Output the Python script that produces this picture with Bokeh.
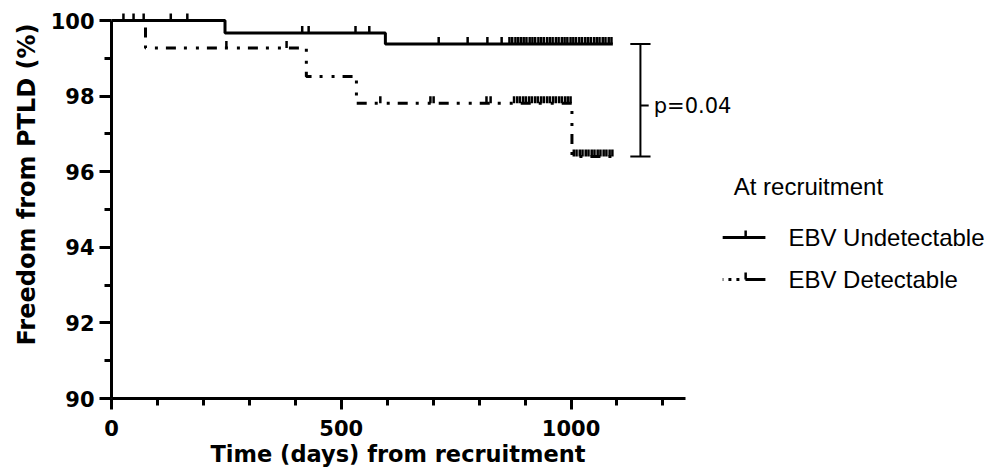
import numpy as np
from bokeh.plotting import figure
from bokeh.models import Range1d, FixedTicker, Title
from bokeh.embed import file_html
from bokeh.resources import INLINE
from bokeh.core.properties import value

# ---------------- data ----------------
undet_times = [0, 247, 596, 1091]
undet_surv = [100.0, 99.67, 99.38, 99.38]
det_times = [0, 74, 424, 533, 1002, 1091]
det_surv = [100.0, 99.27, 98.52, 97.81, 96.40, 96.40]

undet_censor = [26, 48, 70, 129, 165, 415, 429, 531, 561, 712, 775, 818, 849,
                866, 872, 879, 885, 891, 897, 903, 910, 916, 922, 929, 935, 941,
                948, 954, 960, 967, 973, 980, 986, 992, 999, 1005, 1011, 1018,
                1024, 1031, 1037, 1043, 1050, 1056, 1062, 1069, 1075, 1082, 1088]
det_censor = [250, 381, 585, 694, 701, 816, 825,
              876, 883, 889, 896, 902, 909, 915, 922, 928, 935, 941, 948, 954,
              961, 967, 974, 980, 987, 993, 999,
              1006, 1012, 1019, 1025, 1032, 1038, 1045, 1051, 1058, 1064, 1071,
              1077, 1084, 1090]

x_ticks = [0, 500, 1000]
x_minor = [100, 200, 300, 400, 600, 700, 800, 900, 1100, 1200]
y_ticks = [90, 92, 94, 96, 98, 100]
y_minor = [91, 93, 95, 97, 99]

series_names = ["EBV Undetectable", "EBV Detectable"]
legend_title = "At recruitment"
p_label = "p=0.04"
x_title = "Time (days) from recruitment"
y_title = "Freedom from PTLD (%)"


def step_value(times, surv, t):
    idx = np.searchsorted(np.asarray(times), np.asarray(t), side="right") - 1
    return list(np.asarray(surv)[idx])


DASH = "10 8 3 9 3 8"

p = figure(width=992, height=476,
           x_range=Range1d(0, 1915), y_range=Range1d(90, 100.53),
           output_backend="svg", toolbar_location=None,
           min_border_left=111, min_border_right=1,
           min_border_top=0, min_border_bottom=78)
p.xgrid.visible = False
p.ygrid.visible = False
p.outline_line_color = None
p.background_fill_color = "white"
p.border_fill_color = "white"

for ax in (p.xaxis[0], p.yaxis[0]):
    ax.axis_line_width = 3
    ax.axis_line_color = "black"
    ax.major_tick_line_width = 3
    ax.minor_tick_line_width = 3
    ax.major_tick_line_color = "black"
    ax.minor_tick_line_color = "black"
    ax.major_tick_in = 0
    ax.minor_tick_in = 0
    ax.minor_tick_out = 7
    ax.major_label_text_font = "DejaVu Sans"
    ax.major_label_text_font_style = "bold"
    ax.major_label_text_font_size = "21px"
    ax.major_label_text_color = "black"

p.xaxis[0].ticker = FixedTicker(ticks=x_ticks, minor_ticks=x_minor)
p.xaxis[0].bounds = (0, 1250)
p.xaxis[0].major_tick_out = 11
p.xaxis[0].major_label_standoff = 10
p.yaxis[0].ticker = FixedTicker(ticks=y_ticks, minor_ticks=y_minor)
p.yaxis[0].bounds = (90, 100)
p.yaxis[0].major_tick_out = 12
p.yaxis[0].major_label_standoff = 5

# curves
p.step(det_times, det_surv, mode="after", line_width=3, line_color="black",
       line_dash=DASH)
p.step(undet_times, undet_surv, mode="after", line_width=3, line_color="black")

# censor marks
p.ray(x=undet_censor, y=step_value(undet_times, undet_surv, undet_censor),
      length=7, length_units="screen", angle=np.pi / 2,
      line_width=2.5, line_color="black")
p.ray(x=det_censor, y=step_value(det_times, det_surv, det_censor),
      length=7, length_units="screen", angle=np.pi / 2,
      line_width=2.5, line_color="black")

# p-value bracket
bx = 1151
cap = 22
top_v = undet_surv[-1]
bot_v = det_surv[-1]
mid_v = 97.75
p.segment(x0=[bx, bx - cap, bx - cap, bx], y0=[bot_v, top_v, bot_v, mid_v],
          x1=[bx, bx + cap, bx + cap, bx + 18], y1=[top_v, top_v, bot_v, mid_v],
          line_width=2, line_color="black")
p.text(x=[1180], y=[mid_v], text=[p_label], text_font=value("DejaVu Sans"),
       text_font_size="21px", text_baseline="middle", text_align="left",
       text_color="black")

# legend
leg_x0, leg_x1, leg_tick = 1330, 1423, 1380
leg_y = [94.26, 93.15]
p.text(x=[1354], y=[95.60], text=[legend_title], text_font=value("Liberation Sans"),
       text_font_size="24px", text_baseline="middle", text_align="left",
       text_color="black")
p.line([leg_x0, leg_x1], [leg_y[0], leg_y[0]], line_width=3, line_color="black")
p.line([leg_x1, leg_x0], [leg_y[1], leg_y[1]], line_width=3, line_color="black",
       line_dash="20 6 3 5 3 5")
p.ray(x=[leg_tick, leg_tick], y=leg_y, length=7, length_units="screen",
      angle=np.pi / 2, line_width=2.5, line_color="black")
p.text(x=[1473, 1473], y=leg_y, text=series_names, text_font=value("Liberation Sans"),
       text_font_size="24px", text_baseline="middle", text_align="left",
       text_color="black")

# axis titles (as side titles so they can be offset like the original)
p.add_layout(Title(text=x_title, align="left", offset=99, standoff=0,
                   text_font="DejaVu Sans", text_font_style="bold",
                   text_font_size="22.5px", text_color="black"), "below")
p.add_layout(Title(text=y_title, align="left", offset=53, standoff=14,
                   text_font="DejaVu Sans", text_font_style="bold",
                   text_font_size="24px", text_color="black"), "left")

open("out.html", "w").write(file_html(p, INLINE))
